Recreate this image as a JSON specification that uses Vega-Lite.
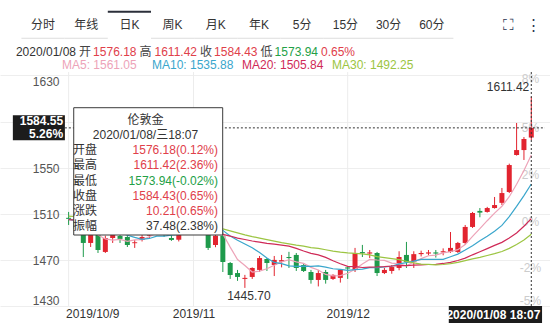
{
"$schema": "https://vega.github.io/schema/vega-lite/v6.json",
"width": 550,
"height": 323,
"autosize": {"type": "fit", "contains": "padding"},
"padding": 0,
"background": "#ffffff",
"config": {"view": {"stroke": null}, "font": "Liberation Sans, Noto Sans CJK SC", "axis": {"domain": false, "ticks": false}},
"datasets": {
"k": [
{"d":"2019-10-09","j":0,"o":1506.5,"h":1511.6,"l":1500.3,"c":1505.6,"ma5":1505.1,"ma10":1505.1,"ma20":1505.0,"ma30":1507.9},
{"d":"2019-10-10","j":1,"o":1505.6,"h":1507,"l":1495,"c":1497,"ma5":1503.5,"ma10":1504.3,"ma20":1504.6,"ma30":1507.6},
{"d":"2019-10-11","j":2,"o":1497,"h":1499,"l":1472.5,"c":1484.7,"ma5":1499.5,"ma10":1502.2,"ma20":1503.6,"ma30":1506.8},
{"d":"2019-10-14","j":3,"o":1484.7,"h":1493.4,"l":1481.2,"c":1491.6,"ma5":1496.8,"ma10":1500.9,"ma20":1502.9,"ma30":1506.2},
{"d":"2019-10-15","j":4,"o":1491.6,"h":1494,"l":1476,"c":1478.6,"ma5":1491.5,"ma10":1498.3,"ma20":1501.6,"ma30":1505.3},
{"d":"2019-10-16","j":5,"o":1476.9,"h":1491,"l":1476,"c":1489,"ma5":1488.2,"ma10":1496.7,"ma20":1500.8,"ma30":1504.6},
{"d":"2019-10-17","j":6,"o":1489,"h":1494,"l":1484.7,"c":1491.6,"ma5":1487.1,"ma10":1495.3,"ma20":1500.2,"ma30":1504.1},
{"d":"2019-10-18","j":7,"o":1490.8,"h":1493,"l":1484.7,"c":1488.2,"ma5":1487.8,"ma10":1493.6,"ma20":1499.3,"ma30":1503.4},
{"d":"2019-10-21","j":8,"o":1489.9,"h":1492,"l":1481.2,"c":1482.9,"ma5":1486.1,"ma10":1491.4,"ma20":1498.2,"ma30":1502.6},
{"d":"2019-10-22","j":9,"o":1484.5,"h":1487.3,"l":1480.4,"c":1485.3,"ma5":1487.4,"ma10":1489.5,"ma20":1497.2,"ma30":1501.8},
{"d":"2019-10-23","j":10,"o":1487.3,"h":1495,"l":1486,"c":1489.9,"ma5":1487.6,"ma10":1487.9,"ma20":1496.5,"ma30":1501.2},
{"d":"2019-10-24","j":11,"o":1491,"h":1506,"l":1489,"c":1504,"ma5":1490.1,"ma10":1488.6,"ma20":1496.5,"ma30":1501.0},
{"d":"2019-10-25","j":12,"o":1504,"h":1508,"l":1499,"c":1505,"ma5":1493.4,"ma10":1490.6,"ma20":1496.4,"ma30":1501.0},
{"d":"2019-10-28","j":13,"o":1505,"h":1507,"l":1490,"c":1492,"ma5":1495.2,"ma10":1490.7,"ma20":1495.8,"ma30":1500.5},
{"d":"2019-10-29","j":14,"o":1489,"h":1494,"l":1486.5,"c":1487.3,"ma5":1495.7,"ma10":1491.5,"ma20":1494.9,"ma30":1499.8},
{"d":"2019-10-30","j":15,"o":1487.5,"h":1498,"l":1486,"c":1496,"ma5":1496.9,"ma10":1492.2,"ma20":1494.5,"ma30":1499.3},
{"d":"2019-10-31","j":16,"o":1496,"h":1514,"l":1494,"c":1513,"ma5":1498.7,"ma10":1494.3,"ma20":1494.8,"ma30":1499.5},
{"d":"2019-11-01","j":17,"o":1513,"h":1516,"l":1504,"c":1514,"ma5":1500.5,"ma10":1496.9,"ma20":1495.3,"ma30":1499.7},
{"d":"2019-11-04","j":18,"o":1511,"h":1515,"l":1506,"c":1509,"ma5":1503.9,"ma10":1499.5,"ma20":1495.5,"ma30":1499.7},
{"d":"2019-11-05","j":19,"o":1509,"h":1512,"l":1478.6,"c":1480.4,"ma5":1502.5,"ma10":1499.0,"ma20":1494.2,"ma30":1498.8},
{"d":"2019-11-06","j":20,"o":1482.9,"h":1493,"l":1481,"c":1491,"ma5":1501.5,"ma10":1499.1,"ma20":1493.5,"ma30":1498.2},
{"d":"2019-11-07","j":21,"o":1491,"h":1494,"l":1459.5,"c":1468.2,"ma5":1492.5,"ma10":1495.6,"ma20":1492.1,"ma30":1496.9},
{"d":"2019-11-08","j":22,"o":1467.3,"h":1468.2,"l":1453.5,"c":1456.9,"ma5":1481.1,"ma10":1490.8,"ma20":1490.7,"ma30":1495.2},
{"d":"2019-11-11","j":23,"o":1458.6,"h":1461.3,"l":1451.8,"c":1455.2,"ma5":1470.3,"ma10":1487.1,"ma20":1488.9,"ma30":1493.4},
{"d":"2019-11-12","j":24,"o":1453.5,"h":1457,"l":1445.7,"c":1454.4,"ma5":1465.1,"ma10":1483.8,"ma20":1487.7,"ma30":1491.7},
{"d":"2019-11-13","j":25,"o":1455.2,"h":1463.5,"l":1453.5,"c":1463,"ma5":1459.5,"ma10":1480.5,"ma20":1486.4,"ma30":1490.2},
{"d":"2019-11-14","j":26,"o":1461.3,"h":1473.4,"l":1459.5,"c":1471.6,"ma5":1460.2,"ma10":1476.4,"ma20":1485.4,"ma30":1488.9},
{"d":"2019-11-15","j":27,"o":1470.8,"h":1471.6,"l":1460.4,"c":1467.3,"ma5":1462.3,"ma10":1471.7,"ma20":1484.3,"ma30":1487.6},
{"d":"2019-11-18","j":28,"o":1465.6,"h":1473.4,"l":1456,"c":1470,"ma5":1465.3,"ma10":1467.8,"ma20":1483.7,"ma30":1486.3},
{"d":"2019-11-19","j":29,"o":1468.5,"h":1474.3,"l":1463.5,"c":1469.8,"ma5":1468.3,"ma10":1466.7,"ma20":1482.9,"ma30":1485.0},
{"d":"2019-11-20","j":30,"o":1472.5,"h":1477,"l":1463,"c":1471.6,"ma5":1470.1,"ma10":1464.8,"ma20":1482.0,"ma30":1483.9},
{"d":"2019-11-21","j":31,"o":1474.3,"h":1476,"l":1460.4,"c":1463,"ma5":1468.3,"ma10":1464.3,"ma20":1480.0,"ma30":1482.8},
{"d":"2019-11-22","j":32,"o":1465.6,"h":1467.3,"l":1459.5,"c":1460.4,"ma5":1467.0,"ma10":1464.6,"ma20":1477.7,"ma30":1482.0},
{"d":"2019-11-25","j":33,"o":1459.5,"h":1461.3,"l":1449.4,"c":1452.6,"ma5":1463.5,"ma10":1464.4,"ma20":1475.7,"ma30":1480.7},
{"d":"2019-11-26","j":34,"o":1452.6,"h":1461.3,"l":1447,"c":1458.6,"ma5":1461.2,"ma10":1464.8,"ma20":1474.3,"ma30":1480.0},
{"d":"2019-11-27","j":35,"o":1459.5,"h":1461.3,"l":1449.4,"c":1452.6,"ma5":1457.4,"ma10":1463.8,"ma20":1472.2,"ma30":1478.8},
{"d":"2019-11-28","j":36,"o":1453.5,"h":1457.5,"l":1452.6,"c":1457,"ma5":1456.2,"ma10":1462.3,"ma20":1469.3,"ma30":1477.6},
{"d":"2019-11-29","j":37,"o":1454.4,"h":1462,"l":1450.3,"c":1461.3,"ma5":1456.4,"ma10":1461.7,"ma20":1466.7,"ma30":1476.7},
{"d":"2019-12-02","j":38,"o":1463.5,"h":1464.4,"l":1453.5,"c":1462.5,"ma5":1458.4,"ma10":1460.9,"ma20":1464.4,"ma30":1476.1},
{"d":"2019-12-03","j":39,"o":1461.3,"h":1480.4,"l":1459.5,"c":1476,"ma5":1461.9,"ma10":1461.6,"ma20":1464.2,"ma30":1475.7},
{"d":"2019-12-04","j":40,"o":1476.8,"h":1483,"l":1472.5,"c":1475.8,"ma5":1466.5,"ma10":1462.0,"ma20":1463.4,"ma30":1475.3},
{"d":"2019-12-05","j":41,"o":1475.5,"h":1478.6,"l":1471.6,"c":1476.5,"ma5":1470.4,"ma10":1463.3,"ma20":1463.8,"ma30":1474.4},
{"d":"2019-12-06","j":42,"o":1476,"h":1476.9,"l":1456,"c":1458.6,"ma5":1469.9,"ma10":1463.2,"ma20":1463.9,"ma30":1472.8},
{"d":"2019-12-09","j":43,"o":1458.6,"h":1463,"l":1457.7,"c":1461.3,"ma5":1469.6,"ma10":1464.0,"ma20":1464.2,"ma30":1471.9},
{"d":"2019-12-10","j":44,"o":1460.4,"h":1465.5,"l":1458,"c":1463.8,"ma5":1467.2,"ma10":1464.5,"ma20":1464.7,"ma30":1471.1},
{"d":"2019-12-11","j":45,"o":1463,"h":1477.5,"l":1461,"c":1472.5,"ma5":1466.5,"ma10":1466.5,"ma20":1465.1,"ma30":1470.2},
{"d":"2019-12-12","j":46,"o":1474.3,"h":1485.6,"l":1463,"c":1468.2,"ma5":1464.9,"ma10":1467.7,"ma20":1465.0,"ma30":1468.7},
{"d":"2019-12-13","j":47,"o":1468.2,"h":1477.5,"l":1463,"c":1475,"ma5":1468.2,"ma10":1469.0,"ma20":1465.4,"ma30":1467.4},
{"d":"2019-12-16","j":48,"o":1475,"h":1478,"l":1473,"c":1476,"ma5":1471.1,"ma10":1470.4,"ma20":1465.7,"ma30":1466.4},
{"d":"2019-12-17","j":49,"o":1475.5,"h":1478.6,"l":1474,"c":1476.5,"ma5":1473.6,"ma10":1470.4,"ma20":1466.0,"ma30":1466.2},
{"d":"2019-12-18","j":50,"o":1476.5,"h":1478.6,"l":1472,"c":1475.5,"ma5":1474.2,"ma10":1470.4,"ma20":1466.2,"ma30":1465.7},
{"d":"2019-12-19","j":51,"o":1476.5,"h":1480,"l":1474,"c":1477.5,"ma5":1476.1,"ma10":1470.5,"ma20":1466.9,"ma30":1466.0},
{"d":"2019-12-20","j":52,"o":1476.9,"h":1494.2,"l":1476,"c":1480.4,"ma5":1477.2,"ma10":1472.7,"ma20":1467.9,"ma30":1466.8},
{"d":"2019-12-23","j":53,"o":1476.9,"h":1485.6,"l":1476,"c":1484.7,"ma5":1478.9,"ma10":1475.0,"ma20":1469.5,"ma30":1467.8},
{"d":"2019-12-24","j":54,"o":1484.7,"h":1500.3,"l":1483,"c":1498.6,"ma5":1483.3,"ma10":1478.5,"ma20":1471.5,"ma30":1469.3},
{"d":"2019-12-26","j":55,"o":1498.6,"h":1511.6,"l":1497.7,"c":1510.7,"ma5":1490.4,"ma10":1482.3,"ma20":1474.4,"ma30":1470.9},
{"d":"2019-12-27","j":56,"o":1512.5,"h":1515,"l":1507,"c":1511,"ma5":1497.1,"ma10":1486.6,"ma20":1477.1,"ma30":1472.2},
{"d":"2019-12-30","j":57,"o":1511.6,"h":1516,"l":1511,"c":1515,"ma5":1504.0,"ma10":1490.6,"ma20":1479.8,"ma30":1473.8},
{"d":"2019-12-31","j":58,"o":1515,"h":1524.6,"l":1514.5,"c":1517.6,"ma5":1510.6,"ma10":1494.8,"ma20":1482.6,"ma30":1475.4},
{"d":"2020-01-02","j":59,"o":1519.5,"h":1532.4,"l":1517.6,"c":1528,"ma5":1516.5,"ma10":1499.9,"ma20":1485.2,"ma30":1477.3},
{"d":"2020-01-03","j":60,"o":1528.9,"h":1553.5,"l":1528,"c":1552.3,"ma5":1524.8,"ma10":1507.6,"ma20":1489.0,"ma30":1480.0},
{"d":"2020-01-06","j":61,"o":1561,"h":1588.8,"l":1560.5,"c":1565.3,"ma5":1535.6,"ma10":1516.4,"ma20":1493.4,"ma30":1483.4},
{"d":"2020-01-07","j":62,"o":1565.3,"h":1576.6,"l":1556.7,"c":1574.9,"ma5":1547.6,"ma10":1525.8,"ma20":1499.2,"ma30":1487.2},
{"d":"2020-01-08","j":63,"o":1576.18,"h":1611.42,"l":1573.94,"c":1584.43,"ma5":1561.05,"ma10":1535.88,"ma20":1505.84,"ma30":1492.25}
],
"tip": [
{"row":"伦敦金","col":"title","t":"伦敦金","kind":"plain"},
{"row":"2020/01/08/三18:07","col":"title","t":"2020/01/08/三18:07","kind":"plain"},
{"row":"开盘","col":"label","t":"开盘","kind":"plain"},
{"row":"开盘","col":"value","t":"1576.18(0.12%)","kind":"up"},
{"row":"最高","col":"label","t":"最高","kind":"plain"},
{"row":"最高","col":"value","t":"1611.42(2.36%)","kind":"up"},
{"row":"最低","col":"label","t":"最低","kind":"plain"},
{"row":"最低","col":"value","t":"1573.94(-0.02%)","kind":"down"},
{"row":"收盘","col":"label","t":"收盘","kind":"plain"},
{"row":"收盘","col":"value","t":"1584.43(0.65%)","kind":"up"},
{"row":"涨跌","col":"label","t":"涨跌","kind":"plain"},
{"row":"涨跌","col":"value","t":"10.21(0.65%)","kind":"up"},
{"row":"振幅","col":"label","t":"振幅","kind":"plain"},
{"row":"振幅","col":"value","t":"37.48(2.38%)","kind":"plain"}
],
"tabs": [
{"tab":"分时","line":"tabs","active":false},{"tab":"年线","line":"tabs","active":false},{"tab":"日K","line":"tabs","active":true},{"tab":"周K","line":"tabs","active":false},{"tab":"月K","line":"tabs","active":false},{"tab":"年K","line":"tabs","active":false},{"tab":"5分","line":"tabs","active":false},{"tab":"15分","line":"tabs","active":false},{"tab":"30分","line":"tabs","active":false},{"tab":"60分","line":"tabs","active":false}
]
},
"resolve": {"scale": {"x": "independent", "y": "independent"}},
"layer": [
{
"resolve": {"axis": {"y": "independent"}},
"layer": [
{
"data": {"values": [{"j": 0}, {"j": 17}, {"j": 38}]},
"mark": {"type": "rule", "color": "#ececec", "strokeWidth": 1},
"encoding": {
"x": {"field": "j", "type": "quantitative", "title": null,
"scale": {"domain": [-8.663, 64.867], "nice": false, "zero": false},
"axis": {"values": [0, 17, 38], "grid": false, "offset": -17, "labelPadding": 2, "labelBaseline": "top", "labelFontSize": 12, "labelColor": "#333333", "labelFlush": false, "labelOverlap": false,
"labelExpr": "datum.value == 0 ? '2019/10/9' : datum.value == 17 ? '2019/11' : '2019/12'",
"labelAlign": {"condition": {"test": "datum.value == 0", "value": "left"}, "value": "center"},
"labelOffset": {"condition": {"test": "datum.value == 0", "value": -3}, "value": 0}}},
"y": {"datum": 1430, "type": "quantitative", "axis": null, "title": null},
"y2": {"datum": 1633}
}
},
{
"data": {"name": "k"},
"mark": {"type": "rule", "strokeWidth": 1},
"encoding": {
"x": {"field": "j", "type": "quantitative", "title": null},
"y": {"field": "l", "type": "quantitative", "title": null,
"scale": {"domain": [1415.25, 1695.5], "nice": false, "zero": false},
"axis": {"orient": "left", "offset": -60, "values": [1430, 1470, 1510, 1550, 1590, 1630], "format": "d", "grid": true, "gridColor": "#eeeeee", "labelPadding": 1, "labelFontSize": 12, "labelColor": "#555555",
"labelBaseline": {"condition": {"test": "datum.value >= 1630", "value": "top"}, "value": "middle"},
"labelOffset": {"condition": {"test": "datum.value <= 1430", "value": -6}, "value": 1}}},
"y2": {"field": "h"},
"color": {"condition": {"test": "datum.c >= datum.o", "value": "#e2242f"}, "value": "#1e9a4b"}
}
},
{
"data": {"name": "k"},
"mark": {"type": "bar", "width": 5},
"encoding": {
"x": {"field": "j", "type": "quantitative", "title": null},
"y": {"field": "o", "type": "quantitative", "title": null,
"axis": {"orient": "right", "offset": -20, "values": [1627.8, 1585.3, 1543.7, 1502.9, 1463.0, 1435.2], "grid": false, "labelPadding": 0, "labelAlign": "center", "labelFontSize": 12, "labelColor": "#cccccc",
"labelExpr": "datum.value > 1600 ? '8%' : datum.value > 1560 ? '5%' : datum.value > 1520 ? '2%' : datum.value > 1480 ? '0%' : datum.value > 1450 ? '-2%' : '-5%'"}},
"y2": {"field": "c"},
"color": {"condition": {"test": "datum.c >= datum.o", "value": "#e2242f"}, "value": "#1e9a4b"}
}
},
{
"data": {"name": "k"},
"transform": [{"fold": ["ma5", "ma10", "ma20", "ma30"], "as": ["ma", "v"]}],
"mark": {"type": "line", "strokeWidth": 1.2},
"encoding": {
"x": {"field": "j", "type": "quantitative", "title": null},
"y": {"field": "v", "type": "quantitative", "title": null, "axis": null},
"color": {"field": "ma", "type": "nominal", "legend": null,
"scale": {"domain": ["plain", "label", "up", "down", "ma5", "ma10", "ma20", "ma30"], "range": ["#333333", "#444444", "#e0404a", "#23a047", "#eda3b8", "#3aa6cc", "#cf2a57", "#9cc542"]}}
}
},
{
"data": {"values": [{"j": 63, "p": 1611.42, "t": "1611.42"}]},
"mark": {"type": "text", "align": "right", "baseline": "bottom", "dx": -2, "dy": -3, "fontSize": 12, "color": "#333333"},
"encoding": {
"x": {"field": "j", "type": "quantitative", "title": null},
"y": {"field": "p", "type": "quantitative", "title": null, "axis": null},
"text": {"field": "t"}
}
},
{
"data": {"values": [{"j": 24, "p": 1445.7, "t": "1445.70"}]},
"mark": {"type": "text", "align": "center", "baseline": "top", "dx": 4, "dy": 3, "fontSize": 12, "color": "#333333"},
"encoding": {
"x": {"field": "j", "type": "quantitative", "title": null},
"y": {"field": "p", "type": "quantitative", "title": null, "axis": null},
"text": {"field": "t"}
}
},
{
"data": {"values": [{"p": 1584.55}]},
"mark": {"type": "rule", "strokeDash": [2, 2], "color": "#333333", "strokeWidth": 1},
"encoding": {
"y": {"field": "p", "type": "quantitative", "title": null, "axis": null},
"x": {"datum": -0.508, "type": "quantitative", "title": null},
"x2": {"datum": 64.867}
}
},
{
"data": {"values": [{"j": 63}]},
"mark": {"type": "rule", "strokeDash": [2, 2], "color": "#333333", "strokeWidth": 1},
"encoding": {
"x": {"field": "j", "type": "quantitative", "title": null},
"y": {"datum": 1430, "type": "quantitative", "title": null, "axis": null},
"y2": {"datum": 1633}
}
},
{
"data": {"values": [{"box": "tooltip"}]},
"mark": {"type": "rect", "fill": "#ffffff", "stroke": "#3a3a3a", "strokeWidth": 1},
"encoding": {
"x": {"datum": 0.695, "type": "quantitative", "title": null},
"x2": {"datum": 20.98},
"y": {"datum": 1491.6, "type": "quantitative", "title": null, "axis": null},
"y2": {"datum": 1602.05}
}
},
{
"data": {"values": [{"p": 1584.55}]},
"mark": {"type": "rect", "height": 25, "color": "#1c1c1c"},
"encoding": {
"y": {"field": "p", "type": "quantitative", "title": null, "axis": null},
"x": {"datum": -7.593, "type": "quantitative", "title": null},
"x2": {"datum": -0.508}
}
},
{
"data": {"values": [{"p": 1584.55, "t": ["1584.55", "5.26%"]}]},
"mark": {"type": "text", "align": "right", "baseline": "middle", "dy": -6.5, "color": "#ffffff", "fontSize": 12, "fontWeight": "bold", "lineHeight": 13},
"encoding": {
"y": {"field": "p", "type": "quantitative", "title": null, "axis": null},
"x": {"datum": -0.75, "type": "quantitative", "title": null},
"text": {"field": "t"}
}
},
{
"data": {"values": [{"t": "2020/01/08 18:07"}]},
"mark": {"type": "rect", "color": "#1c1c1c"},
"encoding": {
"x": {"datum": 51.766, "type": "quantitative", "title": null},
"x2": {"datum": 64.465},
"y": {"datum": 1430, "type": "quantitative", "title": null, "axis": null},
"y2": {"datum": 1415.25}
}
},
{
"data": {"values": [{"t": "2020/01/08 18:07", "p": 1422.6}]},
"mark": {"type": "text", "align": "right", "baseline": "middle", "color": "#ffffff", "fontSize": 12, "fontWeight": "bold"},
"encoding": {
"x": {"datum": 64.25, "type": "quantitative", "title": null},
"y": {"field": "p", "type": "quantitative", "title": null, "axis": null},
"text": {"field": "t"}
}
}
]
},
{
"resolve": {"scale": {"x": "independent"}},
"layer": [
{
"data": {"name": "tabs"},
"transform": [{"filter": "!datum.active"}],
"mark": {"type": "bar", "height": 1, "color": "#dddddd"},
"encoding": {
"x": {"field": "tab", "type": "nominal", "sort": null, "title": null, "axis": null, "scale": {"type": "band", "domain": ["分时","年线","日K","周K","月K","年K","5分","15分","30分","60分"], "range": [21.4, 453.4], "paddingInner": 0, "paddingOuter": 0}},
"y": {"datum": "sep", "type": "nominal", "title": null, "axis": null, "scale": {"type": "point", "domain": ["top", "tabs", "sep", "h1", "h2"], "range": [11.7, 65], "padding": 0}}
}
},
{
"data": {"name": "tabs"},
"transform": [{"filter": "datum.active"}],
"mark": {"type": "bar", "height": 2, "color": "#2b2f3a"},
"encoding": {
"x": {"field": "tab", "type": "nominal", "sort": null, "title": null, "axis": null, "scale": {"type": "band", "domain": ["分时","年线","日K","周K","月K","年K","5分","15分","30分","60分"], "range": [21.4, 453.4], "paddingInner": 0, "paddingOuter": 0}},
"y": {"datum": "top", "type": "nominal", "title": null, "axis": null}
}
},
{
"data": {"name": "tabs"},
"mark": {"type": "text", "fontSize": 12, "color": "#333333"},
"encoding": {
"x": {"field": "tab", "type": "nominal", "sort": null, "title": null, "axis": null, "scale": {"type": "band", "range": [21.4, 453.4], "paddingInner": 0, "paddingOuter": 0}},
"y": {"field": "line", "type": "nominal", "title": null, "axis": null},
"text": {"field": "tab"}
}
},
{
"data": {"values": [{"icon":"⛶","line":"tabs"},{"icon":"⋮","line":"tabs"}]},
"mark": {"type": "text", "fontSize": 15, "color": "#2a3550"},
"encoding": {
"x": {"field": "icon", "type": "nominal", "sort": null, "title": null, "axis": null, "scale": {"type": "point", "range": [508, 533], "padding": 0}},
"y": {"field": "line", "type": "nominal", "title": null, "axis": null},
"text": {"field": "icon"}
}
},
{
"data": {"values": [{"seg":"2020/01/08","kind":"plain","line":"h1"},{"seg":"1576.18","kind":"up","line":"h1"},{"seg":"1611.42","kind":"up","line":"h1"},{"seg":"1584.43","kind":"up","line":"h1"},{"seg":"1573.94","kind":"down","line":"h1"}]},
"mark": {"type": "text", "align": "right", "fontSize": 12},
"encoding": {
"x": {"field": "seg", "type": "nominal", "sort": null, "title": null, "axis": null, "scale": {"type": "point", "range": [76, 318], "padding": 0}},
"y": {"field": "line", "type": "nominal", "title": null, "axis": null},
"text": {"field": "seg"},
"color": {"field": "kind", "type": "nominal", "legend": null}
}
},
{
"data": {"values": [{"seg":"开","kind":"label","line":"h1"},{"seg":"高","kind":"label","line":"h1"},{"seg":"收","kind":"label","line":"h1"},{"seg":"低","kind":"label","line":"h1"},{"seg":"0.65%","kind":"up","line":"h1"}]},
"mark": {"type": "text", "align": "left", "fontSize": 12},
"encoding": {
"x": {"field": "seg", "type": "nominal", "sort": null, "title": null, "axis": null, "scale": {"type": "point", "range": [79, 321], "padding": 0}},
"y": {"field": "line", "type": "nominal", "title": null, "axis": null},
"text": {"field": "seg"},
"color": {"field": "kind", "type": "nominal", "legend": null}
}
},
{
"data": {"values": [{"seg":"MA5: 1561.05","kind":"ma5","line":"h2"},{"seg":"MA10: 1535.88","kind":"ma10","line":"h2"},{"seg":"MA20: 1505.84","kind":"ma20","line":"h2"},{"seg":"MA30: 1492.25","kind":"ma30","line":"h2"}]},
"mark": {"type": "text", "align": "left", "fontSize": 12},
"encoding": {
"x": {"field": "seg", "type": "nominal", "sort": null, "title": null, "axis": null, "scale": {"type": "point", "range": [62, 332], "padding": 0}},
"y": {"field": "line", "type": "nominal", "title": null, "axis": null},
"text": {"field": "seg"},
"color": {"field": "kind", "type": "nominal", "legend": null}
}
}
]
},
{
"data": {"name": "tip"},
"layer": [
{
"transform": [{"filter": "datum.col == 'title'"}],
"mark": {"type": "text", "align": "center", "fontSize": 12},
"encoding": {
"x": {"field": "col", "type": "nominal", "title": null, "axis": null, "scale": {"type": "point", "domain": ["label", "title", "value"], "range": [73, 218], "padding": 0}},
"y": {"field": "row", "type": "nominal", "title": null, "axis": null, "scale": {"type": "point", "domain": ["伦敦金", "2020/01/08/三18:07", "开盘", "最高", "最低", "收盘", "涨跌", "振幅"], "range": [120, 226], "padding": 0}},
"text": {"field": "t"},
"color": {"field": "kind", "type": "nominal", "legend": null}
}
},
{
"transform": [{"filter": "datum.col == 'label'"}],
"mark": {"type": "text", "align": "left", "fontSize": 12},
"encoding": {
"x": {"field": "col", "type": "nominal", "title": null, "axis": null},
"y": {"field": "row", "type": "nominal", "title": null, "axis": null},
"text": {"field": "t"},
"color": {"field": "kind", "type": "nominal", "legend": null}
}
},
{
"transform": [{"filter": "datum.col == 'value'"}],
"mark": {"type": "text", "align": "right", "fontSize": 12},
"encoding": {
"x": {"field": "col", "type": "nominal", "title": null, "axis": null},
"y": {"field": "row", "type": "nominal", "title": null, "axis": null},
"text": {"field": "t"},
"color": {"field": "kind", "type": "nominal", "legend": null}
}
}
]
}
]
}
